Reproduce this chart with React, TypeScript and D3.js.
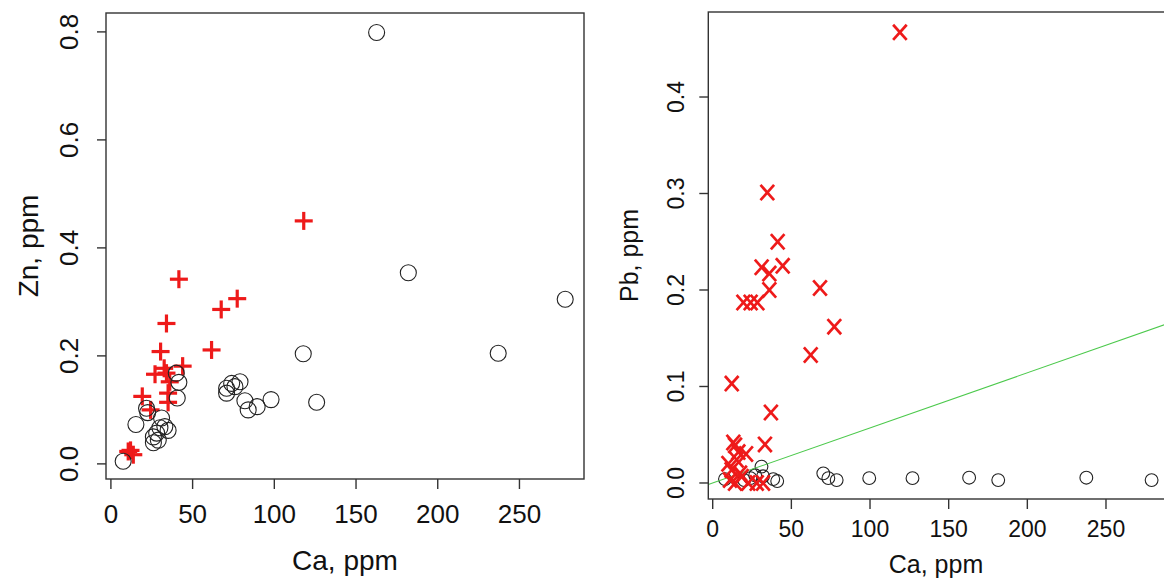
import * as d3 from "d3";

const W = 1164;
const H = 580;
const FONT = "'Liberation Sans', Arial, sans-serif";
const RED = "#ee1a1a";

// left panel: Zn vs Ca
const znCircles: [number, number][] = [
  [7.5, 0.005], [15.3, 0.073], [21.8, 0.103], [22.5, 0.095], [26, 0.05],
  [26, 0.039], [28, 0.057], [29, 0.044], [30, 0.067], [31, 0.085],
  [33, 0.069], [35, 0.062], [40, 0.168], [41.6, 0.151], [40.6, 0.122],
  [70.8, 0.14], [73.9, 0.149], [79, 0.152], [75.9, 0.143], [70.8, 0.131],
  [82, 0.117], [84, 0.1], [89.5, 0.106], [98, 0.119], [117.7, 0.204],
  [125.9, 0.114], [162.6, 0.799], [182, 0.354], [237, 0.205], [278, 0.305],
];

const znCrosses: [number, number][] = [
  [41.6, 0.342], [77.3, 0.306], [67.5, 0.286], [34, 0.26], [30.4, 0.208],
  [61.6, 0.211], [43.9, 0.181], [32.6, 0.177], [27, 0.166], [34, 0.168],
  [36, 0.152], [35, 0.131], [35, 0.114], [19.2, 0.125], [24.3, 0.1],
  [10.6, 0.023], [13.7, 0.017], [12, 0.025], [118, 0.45],
];

// right panel: Pb vs Ca
const pbCircles: [number, number][] = [
  [7.8, 0.004], [20, 0.003], [24, 0.005], [27, 0.008], [31, 0.017],
  [32, 0.007], [38.5, 0.004], [41, 0.002], [70.3, 0.01], [73.5, 0.005],
  [78.8, 0.003], [99.5, 0.005], [127, 0.005], [163, 0.0055], [181.5, 0.003],
  [237.5, 0.0055], [279, 0.003],
];

const pbCrosses: [number, number][] = [
  [119, 0.467], [34.7, 0.301], [41.3, 0.25], [31.1, 0.2235], [44.5, 0.225],
  [36, 0.217], [36, 0.2], [19.5, 0.187], [24.1, 0.187], [28.4, 0.187],
  [68.2, 0.202], [77.3, 0.162], [62.3, 0.1326], [12.1, 0.103], [37, 0.073],
  [33.2, 0.04], [13.1, 0.042], [16.3, 0.032], [21.2, 0.03], [14.2, 0.039],
  [10, 0.02], [12, 0.0135], [15.2, 0.024], [17.4, 0.01], [11, 0.003],
  [14.2, 0], [18.4, 0.0065], [22.6, 0], [28, 0], [32, 0],
];

// fitted line Pb = a + b * Ca
const lineA = 0;
const lineB = 0.000571;

const caTicks = [0, 50, 100, 150, 200, 250];
const znTicks = [0, 0.2, 0.4, 0.6, 0.8];
const pbTicks = [0, 0.1, 0.2, 0.3, 0.4];

function Axes({ x, y, xt, yt, tickSize, titleSize, xLabelY, xTitleY, yLabelX, yTitleX, xTitle, yTitle }: any) {
  const [x0, x1] = x.range();
  const [y0, y1] = y.range();
  return (
    <g fontFamily={FONT} fill="#111">
      <rect x={x0} y={y1} width={x1 - x0} height={y0 - y1} fill="none" stroke="#333" strokeWidth={1.4} />
      {xt.map((t: number) => (
        <g key={"x" + t}>
          <line x1={x(t)} x2={x(t)} y1={y0} y2={y0 + 10} stroke="#333" strokeWidth={1.4} />
          <text x={x(t)} y={xLabelY} fontSize={tickSize} textAnchor="middle">{t}</text>
        </g>
      ))}
      {yt.map((t: number) => (
        <g key={"y" + t}>
          <line x1={x0 - 9} x2={x0} y1={y(t)} y2={y(t)} stroke="#333" strokeWidth={1.4} />
          <text transform={`translate(${yLabelX},${y(t)}) rotate(-90)`} fontSize={tickSize} textAnchor="middle">
            {t.toFixed(1)}
          </text>
        </g>
      ))}
      <text x={xTitle.cx} y={xTitleY} fontSize={titleSize} textAnchor="middle">{xTitle.text}</text>
      <text transform={`translate(${yTitleX},${(y0 + y1) / 2}) rotate(-90)`} fontSize={titleSize} textAnchor="middle">
        {yTitle}
      </text>
    </g>
  );
}

export default function App() {
  const xL = d3.scaleLinear().domain([-3, 289.5]).range([106, 584]);
  const yL = d3.scaleLinear().domain([-0.028, 0.835]).range([479, 13]);
  const xR = d3.scaleLinear().domain([-2.8, 289.8]).range([708.3, 1168.6]);
  const yR = d3.scaleLinear().domain([-0.0166, 0.4881]).range([499, 12]);

  const fit = d3.line<number>().x((c) => xR(c)).y((c) => yR(lineA + lineB * c));
  const cross = 9;
  const xw = 6.8; // half width of the X marker
  const xh = 7.6; // half height of the X marker

  return (
    <div style={{ position: "absolute", left: 0, top: 0 }}>
      <svg width={W} height={H} style={{ display: "block", background: "#fff" }}>
        <defs>
          <clipPath id="clipR">
            <rect x={708.3} y={12} width={1168.6 - 708.3} height={487} />
          </clipPath>
        </defs>

        {/* left panel */}
        <g>
          {znCrosses.map(([c, z], i) => (
            <g key={"lc" + i} stroke={RED} strokeWidth={3.2}>
              <line x1={xL(c) - cross} x2={xL(c) + cross} y1={yL(z)} y2={yL(z)} />
              <line x1={xL(c)} x2={xL(c)} y1={yL(z) - cross} y2={yL(z) + cross} />
            </g>
          ))}
          {znCircles.map(([c, z], i) => (
            <circle key={"lo" + i} cx={xL(c)} cy={yL(z)} r={8} fill="none" stroke="#222" strokeWidth={1.1} />
          ))}
          <Axes x={xL} y={yL} xt={caTicks} yt={znTicks} tickSize={26} titleSize={28}
            xLabelY={523} xTitleY={570} yLabelX={78} yTitleX={38}
            xTitle={{ text: "Ca, ppm", cx: 345 }} yTitle="Zn, ppm" />
        </g>

        {/* right panel */}
        <g>
          {pbCircles.map(([c, p], i) => (
            <circle key={"ro" + i} cx={xR(c)} cy={yR(p)} r={6.4} fill="none" stroke="#222" strokeWidth={1.1} />
          ))}
          <path d={fit([-2.8, 289.8]) ?? ""} fill="none" stroke="#4cc94c" strokeWidth={1.1} clipPath="url(#clipR)" />
          {pbCrosses.map(([c, p], i) => (
            <g key={"rx" + i} stroke={RED} strokeWidth={2.7}>
              <line x1={xR(c) - xw} y1={yR(p) - xh} x2={xR(c) + xw} y2={yR(p) + xh} />
              <line x1={xR(c) + xw} y1={yR(p) - xh} x2={xR(c) - xw} y2={yR(p) + xh} />
            </g>
          ))}
          <Axes x={xR} y={yR} xt={caTicks} yt={pbTicks} tickSize={23} titleSize={25}
            xLabelY={537} xTitleY={573} yLabelX={684} yTitleX={638}
            xTitle={{ text: "Ca, ppm", cx: 936 }} yTitle="Pb, ppm" />
        </g>
      </svg>
    </div>
  );
}
